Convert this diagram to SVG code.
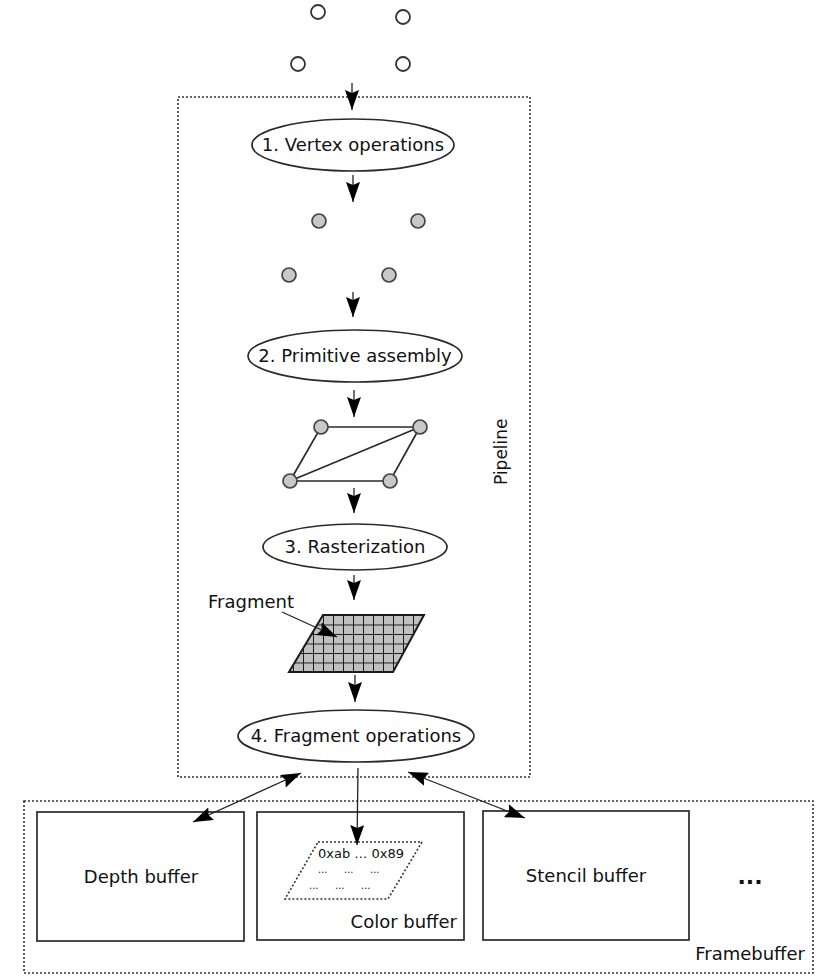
<svg xmlns="http://www.w3.org/2000/svg" width="828" height="979" viewBox="0 0 828 979">
<style>
text{font-family:"DejaVu Sans","Liberation Sans",sans-serif;fill:#111}
.lbl{font-size:18px;text-anchor:middle}
.ell{fill:#fff;stroke:#2a2a2a;stroke-width:1.7}
.box{fill:#fff;stroke:#2a2a2a;stroke-width:1.7}
.dash{fill:none;stroke:#333;stroke-width:1.6;stroke-dasharray:2 2}
.open{fill:#fff;stroke:#333;stroke-width:1.8}
.grey{fill:#c8c8c8;stroke:#444;stroke-width:1.7}
.edge{stroke:#2a2a2a;stroke-width:1.7;fill:none}
.conn{stroke:#222;stroke-width:1.3;fill:none;marker-end:url(#ah)}
.dbl{stroke:#222;stroke-width:1.3;fill:none;marker-end:url(#ah);marker-start:url(#ah)}
.dots{font-size:10px}
</style>
<defs>
<marker id="ah" markerUnits="userSpaceOnUse" viewBox="0 0 20 14" markerWidth="20" markerHeight="14" refX="20" refY="7" orient="auto-start-reverse">
<path d="M0,0 L20,7 L0,14 L3,7 z" fill="#000"/>
</marker>
<pattern id="grid" patternUnits="userSpaceOnUse" x="323" y="615" width="10" height="9.5">
<rect width="10" height="9.5" fill="#c0c0c0"/>
<path d="M0,0 H10 M0,0 V9.5" stroke="#1a1a1a" stroke-width="2" fill="none"/>
</pattern>
</defs>

<g id="pipeline">
<rect x="178" y="97" width="352" height="680" class="dash"/>
<text transform="translate(507,485) rotate(-90)" style="font-size:17px">Pipeline</text>
</g>

<g id="framebuffer">
<rect x="24" y="801" width="789" height="172" class="dash"/>
<text x="805" y="960" style="font-size:18px;text-anchor:end">Framebuffer</text>
</g>

<g id="input-vertices">
<circle cx="318" cy="12" r="7" class="open"/>
<circle cx="403" cy="17" r="7" class="open"/>
<circle cx="298" cy="64" r="7" class="open"/>
<circle cx="403" cy="64" r="7" class="open"/>
</g>

<g id="vertex-ops">
<ellipse cx="353" cy="145" rx="101" ry="26" class="ell"/>
<text x="353" y="151" class="lbl">1. Vertex operations</text>
</g>

<g id="transformed-vertices">
<circle cx="319" cy="221" r="7" class="grey"/>
<circle cx="418" cy="221" r="7" class="grey"/>
<circle cx="289" cy="275" r="7" class="grey"/>
<circle cx="389" cy="275" r="7" class="grey"/>
</g>

<g id="primitive-assembly">
<ellipse cx="355" cy="356" rx="107" ry="26" class="ell"/>
<text x="355" y="362" class="lbl">2. Primitive assembly</text>
</g>

<g id="primitives">
<path d="M321,427 L420,427 L390,481 L290,481 Z M290,481 L420,427" class="edge"/>
<circle cx="321" cy="427" r="7" class="grey"/>
<circle cx="420" cy="427" r="7" class="grey"/>
<circle cx="290" cy="481" r="7" class="grey"/>
<circle cx="390" cy="481" r="7" class="grey"/>
</g>

<g id="rasterization">
<ellipse cx="355" cy="547" rx="92" ry="23" class="ell"/>
<text x="355" y="553" class="lbl">3. Rasterization</text>
</g>

<g id="fragments">
<path d="M323,615 L424,615 L393,672 L289,672 Z" fill="url(#grid)" stroke="#1a1a1a" stroke-width="2"/>
<text x="208" y="608" style="font-size:18px">Fragment</text>
</g>

<g id="fragment-ops">
<ellipse cx="356" cy="736" rx="118" ry="26" class="ell"/>
<text x="356" y="742" class="lbl">4. Fragment operations</text>
</g>

<g id="depth-buffer">
<rect x="37" y="812" width="207" height="129" class="box"/>
<text x="141" y="883" class="lbl">Depth buffer</text>
</g>

<g id="color-buffer">
<rect x="257" y="812" width="207" height="128" class="box"/>
<path d="M318,842 L422,842 L388,899 L285,899 Z" class="dash"/>
<text x="318" y="858" style="font-size:13px">0xab … 0x89</text>
<text x="318" y="873" class="dots">...</text>
<text x="344" y="873" class="dots">...</text>
<text x="370" y="873" class="dots">...</text>
<text x="309" y="889" class="dots">...</text>
<text x="335" y="889" class="dots">...</text>
<text x="361" y="889" class="dots">...</text>
<text x="457" y="928" style="font-size:18px;text-anchor:end">Color buffer</text>
</g>

<g id="stencil-buffer">
<rect x="483" y="811" width="206" height="129" class="box"/>
<text x="586" y="882" class="lbl">Stencil buffer</text>
</g>

<g id="more">
<text x="750" y="884" style="font-size:22px;text-anchor:middle;font-weight:bold">...</text>
</g>

<g id="connectors">
<line x1="352" y1="83" x2="352" y2="110" class="conn"/>
<line x1="353" y1="175" x2="353" y2="202" class="conn"/>
<line x1="353" y1="292" x2="353" y2="317" class="conn"/>
<line x1="354" y1="390" x2="354" y2="417" class="conn"/>
<line x1="354" y1="488" x2="354" y2="513" class="conn"/>
<line x1="354" y1="575" x2="354" y2="600" class="conn"/>
<line x1="282" y1="612" x2="337" y2="637" class="conn"/>
<line x1="355" y1="675" x2="355" y2="702" class="conn"/>
<line x1="358" y1="768" x2="357" y2="845" class="conn"/>
<line x1="301" y1="773" x2="193" y2="822" class="dbl"/>
<line x1="408" y1="772" x2="525" y2="818" class="dbl"/>
</g>
</svg>
